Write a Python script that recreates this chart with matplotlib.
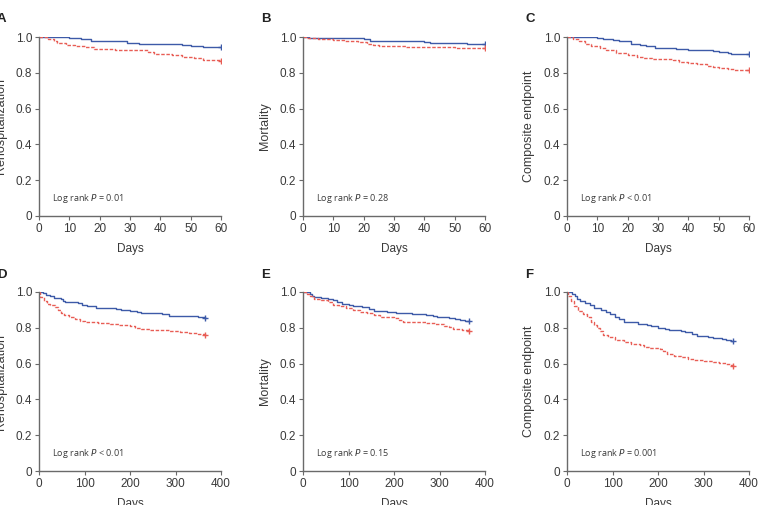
import matplotlib.pyplot as plt

# Kaplan-Meier step data (time, survival)
a_blue_t = [0, 10, 14, 17, 25, 29, 33, 47, 50, 54, 60]
a_blue_s = [1.0, 0.995, 0.99, 0.98, 0.975, 0.965, 0.96, 0.955, 0.95, 0.943, 0.943]
a_red_t = [0, 3, 5, 6, 9, 12, 15, 18, 25, 27, 36, 38, 44, 47, 51, 54, 60]
a_red_s = [1.0, 0.99, 0.975, 0.965, 0.955, 0.948, 0.942, 0.935, 0.93, 0.925, 0.918, 0.905, 0.9, 0.89, 0.885, 0.873, 0.868]

b_blue_t = [0, 2, 20, 22, 24, 40, 42, 54, 60]
b_blue_s = [1.0, 0.996, 0.99, 0.98, 0.975, 0.97, 0.965, 0.961, 0.961]
b_red_t = [0, 1, 5, 10, 14, 15, 18, 21, 23, 25, 34, 50, 60]
b_red_s = [1.0, 0.995, 0.99, 0.986, 0.98, 0.975, 0.97, 0.962, 0.955, 0.95, 0.945, 0.94, 0.936]

c_blue_t = [0, 10, 12, 15, 17, 20, 21, 24, 26, 29, 36, 40, 44, 48, 50, 53, 54, 60]
c_blue_s = [1.0, 0.995, 0.99, 0.985, 0.98, 0.975, 0.963, 0.955, 0.95, 0.94, 0.935, 0.93, 0.925, 0.92, 0.915, 0.91, 0.907, 0.907]
c_red_t = [0, 2, 4, 6, 8, 11, 13, 16, 20, 23, 25, 28, 35, 37, 40, 43, 46, 48, 50, 53, 55, 60]
c_red_s = [1.0, 0.99, 0.975, 0.96, 0.95, 0.94, 0.93, 0.912, 0.9, 0.89, 0.882, 0.875, 0.87, 0.86, 0.855, 0.85, 0.84, 0.832, 0.826, 0.82, 0.815, 0.813]

d_blue_t = [0, 8, 15, 25, 33, 48, 53, 58, 85, 95, 105, 125, 170, 180, 200, 215, 225, 255, 270, 285, 330, 350, 365]
d_blue_s = [1.0, 0.995, 0.985, 0.975, 0.965, 0.96, 0.952, 0.945, 0.94, 0.93, 0.92, 0.91, 0.905, 0.9, 0.895, 0.89, 0.885, 0.88, 0.875, 0.868, 0.865, 0.858, 0.856]
d_red_t = [0, 3, 10, 18, 25, 35, 42, 48, 55, 65, 80, 90, 100, 115, 130, 155, 175, 200, 210, 225, 245, 265, 285, 310, 330, 350, 365]
d_red_s = [1.0, 0.97, 0.95, 0.935, 0.925, 0.915, 0.9, 0.885, 0.87, 0.86, 0.85, 0.84, 0.835, 0.83, 0.825, 0.82, 0.815, 0.81, 0.8, 0.795, 0.79, 0.785, 0.78, 0.775, 0.77, 0.765, 0.76]

e_blue_t = [0, 15, 20, 25, 40, 55, 65, 75, 85, 100, 110, 130, 145, 155, 185, 205, 220, 240, 270, 285, 295, 320, 335, 345, 355, 365]
e_blue_s = [1.0, 0.99, 0.978, 0.972, 0.968, 0.962, 0.955, 0.945, 0.935, 0.93, 0.92, 0.915, 0.905, 0.895, 0.89, 0.885, 0.88, 0.875, 0.87, 0.865, 0.86, 0.855, 0.85, 0.845, 0.84, 0.836]
e_red_t = [0, 8, 15, 25, 40, 55, 65, 80, 95, 110, 125, 140, 155, 170, 200, 210, 220, 240, 270, 290, 310, 320, 330, 350, 365]
e_red_s = [1.0, 0.99, 0.975, 0.962, 0.955, 0.945, 0.93, 0.92, 0.91, 0.9, 0.89, 0.88, 0.87, 0.86, 0.855, 0.845, 0.835, 0.83, 0.825, 0.82, 0.81, 0.805, 0.795, 0.79, 0.784]

f_blue_t = [0, 12, 18, 22, 28, 40, 50, 60, 75, 85, 95, 105, 115, 125, 140, 155, 175, 185, 200, 215, 225, 250, 260, 275, 285, 310, 320, 340, 350, 360, 365]
f_blue_s = [1.0, 0.99, 0.975, 0.96, 0.948, 0.94, 0.93, 0.912, 0.9, 0.89, 0.875, 0.862, 0.85, 0.835, 0.83, 0.82, 0.815, 0.81, 0.8, 0.795, 0.787, 0.78, 0.775, 0.765, 0.755, 0.75, 0.745, 0.74, 0.732, 0.726, 0.724]
f_red_t = [0, 3, 8, 15, 25, 35, 45, 52, 60, 65, 72, 80, 90, 105, 125, 140, 160, 170, 180, 205, 210, 220, 235, 250, 265, 280, 300, 320, 335, 350, 360, 365]
f_red_s = [1.0, 0.975, 0.95, 0.92, 0.892, 0.875, 0.86, 0.832, 0.815, 0.8, 0.78, 0.762, 0.75, 0.73, 0.72, 0.71, 0.705, 0.692, 0.685, 0.68, 0.67, 0.652, 0.64, 0.635, 0.626, 0.62, 0.615, 0.61, 0.605, 0.6, 0.592, 0.588]

letters = ['A', 'B', 'C', 'D', 'E', 'F']
ylabels = ['Rehospitalization', 'Mortality', 'Composite endpoint'] * 2
pvals = ['= 0.01', '= 0.28', '< 0.01', '< 0.01', '= 0.15', '= 0.001']
xmax = [60, 60, 60, 400, 400, 400]
xticks_short = [0, 10, 20, 30, 40, 50, 60]
xticks_long = [0, 100, 200, 300, 400]
yticks = [0, 0.2, 0.4, 0.6, 0.8, 1.0]
ytick_labels = ['0', '0.2', '0.4', '0.6', '0.8', '1.0']

curves = [
    (a_blue_t, a_blue_s, a_red_t, a_red_s),
    (b_blue_t, b_blue_s, b_red_t, b_red_s),
    (c_blue_t, c_blue_s, c_red_t, c_red_s),
    (d_blue_t, d_blue_s, d_red_t, d_red_s),
    (e_blue_t, e_blue_s, e_red_t, e_red_s),
    (f_blue_t, f_blue_s, f_red_t, f_red_s),
]

BLUE = '#3d5aa8'
RED = '#e85d55'
AXC = '#6a6a6a'
TXT = '#3a3a3a'

W, H = 767, 505
fig = plt.figure(figsize=(W / 100, H / 100), dpi=100)

lefts = [39, 303, 567]
tops = [37, 292]
aw, ah = 182, 179

for i in range(6):
    row, col = divmod(i, 3)
    l, t = lefts[col], tops[row]
    ax = fig.add_axes([l / W, (H - t - ah) / H, aw / W, ah / H])
    bt, bs, rt, rs = curves[i]
    ax.step(bt, bs, where='post', color=BLUE, lw=1.0)
    ax.step(rt, rs, where='post', color=RED, lw=1.0, ls=(0, (2.5, 1.2)))
    ax.plot(bt[-1], bs[-1], marker='+', color=BLUE, ms=5, mew=1.0)
    ax.plot(rt[-1], rs[-1], marker='+', color=RED, ms=5, mew=1.0)

    ax.set_xlim(0, xmax[i])
    ax.set_ylim(0, 1.0)
    ax.set_xticks(xticks_short if xmax[i] == 60 else xticks_long)
    ax.set_yticks(yticks)
    ax.set_yticklabels(ytick_labels)
    for s in ['top', 'right']:
        ax.spines[s].set_visible(False)
    for s in ['left', 'bottom']:
        ax.spines[s].set_color(AXC)
        ax.spines[s].set_linewidth(1.0)
    ax.tick_params(direction='out', length=3, width=0.8, color=AXC,
                   labelsize=8.5, labelcolor=TXT, pad=2)
    for lab in ax.get_xticklabels() + ax.get_yticklabels():
        lab.set_family('Liberation Sans')

    ax.set_xlabel('Days', fontsize=8.5, color=TXT, family='Liberation Sans', labelpad=6)
    ax.set_ylabel(ylabels[i], fontsize=9, color=TXT, family='Liberation Sans')
    ax.yaxis.set_label_coords(-0.175, 0.5)

    ax.text(0.07, 0.10, 'Log rank $\\it{P}$ ' + pvals[i], transform=ax.transAxes,
            fontsize=6.5, color=TXT, family='Open Sans', va='center')

    # panel letter, sits ~42 px left of the axes (A and D are clipped in the original)
    fig.text((l - 42) / W, 1 - (t - 17.5) / H, letters[i], fontsize=9.5,
             fontweight='bold', color='#222222', family='Liberation Sans',
             va='center', ha='left')

fig.savefig('out.png', dpi=100)
